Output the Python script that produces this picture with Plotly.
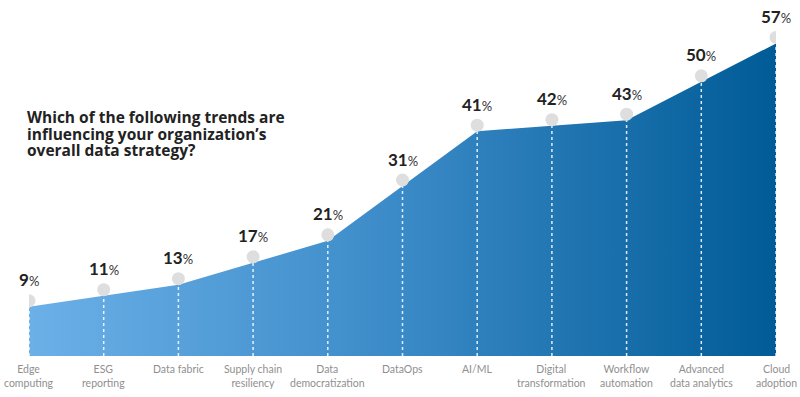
import plotly.graph_objects as go

categories = ["Edge<br>computing", "ESG<br>reporting", "Data fabric", "Supply chain<br>resiliency",
              "Data<br>democratization", "DataOps", "AI/ML", "Digital<br>transformation",
              "Workflow<br>automation", "Advanced<br>data analytics", "Cloud<br>adoption"]
values = [9, 11, 13, 17, 21, 31, 41, 42, 43, 50, 57]
title_lines = ["Which of the following trends are",
               "influencing your organization\u2019s",
               "overall data strategy?"]

xs = list(range(len(values)))
FONT = "Lato"
TFONT = "Open Sans"

# plot area spans x 29..776, y 27..356 in the window
L, T, PW, PH = 29, 27, 747, 329

fig = go.Figure()
fig.add_trace(go.Scatter(
    x=xs, y=values, mode="lines", fill="tozeroy",
    line=dict(width=0, color="rgba(0,0,0,0)"),
    fillgradient=dict(type="horizontal",
                      colorscale=[[0, "#6cb0e8"], [0.5, "#3a8ac7"], [1, "#005b96"]]),
    hoverinfo="skip", showlegend=False,
))

shapes = []
annotations = []
for i, v in enumerate(values):
    shapes.append(dict(type="line", xref="x", yref="y", x0=i, x1=i, y0=0, y1=v,
                       line=dict(color="rgba(255,255,255,0.85)", width=1.5, dash="dot"),
                       layer="above"))
    shapes.append(dict(type="circle", xref="x", yref="y", xsizemode="pixel", ysizemode="pixel",
                       xanchor=i, yanchor=v, x0=-6.5, x1=6.5, y0=-0.5, y1=12.5,
                       fillcolor="#dedede", line=dict(width=0), layer="above"))
    annotations.append(dict(
        x=i, y=v, xref="x", yref="y", yshift=27, showarrow=False,
        text=f"<b>{v}</b><span style='font-size:13px;color:#333'>%</span>",
        font=dict(family=FONT, size=17, color="#222222"),
        xanchor="center", yanchor="middle"))
    annotations.append(dict(
        x=i, y=0, xref="x", yref="y", yshift=-5, showarrow=False,
        text=categories[i], font=dict(family=FONT, size=10.5, color="#8f8f8f"),
        xanchor="center", yanchor="top", align="center"))

# title lines, positioned in pixels of the plot area (baseline at 356, left at 29)
for k, line in enumerate(title_lines):
    cy = 117 + k * 16.5
    annotations.append(dict(
        x=(25 - L) / PW, y=(356 - cy) / PH, xref="paper", yref="paper", showarrow=False,
        text=f"<b>{line}</b>",
        font=dict(family=TFONT, size=15.5, color="#222222"),
        xanchor="left", yanchor="middle", align="left"))

fig.update_layout(
    width=800, height=397,
    margin=dict(l=L, r=800 - L - PW, t=T, b=397 - T - PH, pad=0),
    paper_bgcolor="white", plot_bgcolor="white",
    xaxis=dict(range=[0, 10], visible=False, fixedrange=True),
    yaxis=dict(range=[0, 60], visible=False, fixedrange=True),
    shapes=shapes, annotations=annotations,
    hovermode=False, showlegend=False,
    font=dict(family=FONT),
)
fig.write_html("out.html", config={"displayModeBar": False},
               post_script="document.body.style.margin='0';document.body.style.overflow='hidden';")
